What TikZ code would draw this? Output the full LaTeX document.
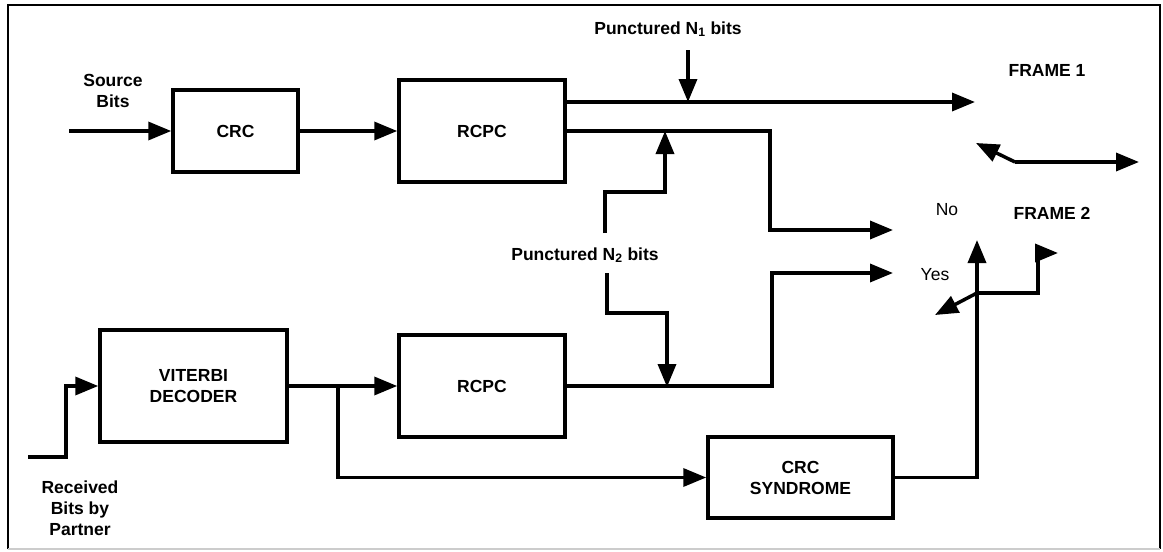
\documentclass[tikz,border=0pt]{standalone}
\usepackage{fontspec}
\setmainfont{Liberation Sans}
\usepackage{tikz}
\usetikzlibrary{arrows.meta, positioning, calc}

\begin{document}
\begin{tikzpicture}[x=1pt, y=-1pt, line width=3.5pt,
    every node/.style={font=\bfseries\fontsize{17.5}{21}\selectfont},
    block/.style={draw, line width=3.5pt, inner sep=0pt, align=center},
    lbl/.style={align=center, inner sep=0pt},
    arr/.style={-{Triangle[length=23pt, width=18pt]}}]
            \useasboundingbox (0,0) rectangle (1163,552);
            \draw[line width=2pt] (8,549) -- (8,5) -- (1160,5) -- (1160,549);
            \draw[line width=2pt, black!20] (8,549) -- (1160,549);
            % blocks
            \node[block, minimum width=125, minimum height=82] (crc) at (235.5,131) {CRC};
            \node[block, minimum width=166, minimum height=102] (rcpcA) at (482,131) {RCPC};
            \node[block, minimum width=187, minimum height=112] (vit) at (193.5,386) {VITERBI\\DECODER};
            \node[block, minimum width=166, minimum height=102] (rcpcB) at (482,386) {RCPC};
            \node[block, minimum width=185, minimum height=81] (syn) at (800.5,477.5) {CRC\\SYNDROME};
            % labels
            \node[lbl] (src) at (113,91) {Source\\Bits};
            \node[lbl] (rx) at (80,508) {Received\\Bits by\\Partner};
            \node[lbl] (n1lbl) at (668,29) {Punctured N\textsubscript{1} bits};
            \node[lbl] (n2lbl) at (585,255) {Punctured N\textsubscript{2} bits};
            \node[lbl] (fr1) at (1047,70) {FRAME 1};
            \node[lbl] (fr2) at (1052,213) {FRAME 2};
            \node[lbl, font=\mdseries\fontsize{17.5}{21}\selectfont] (nolbl) at (947,210) {No};
            \node[lbl, font=\mdseries\fontsize{17.5}{21}\selectfont] (yeslbl) at (935,275) {Yes};
            % free ends
            \coordinate (srcin) at (69,131);
            \coordinate (rxin) at (28,457);
            \coordinate (f1) at (975,102);
            \coordinate (n1) at (688,50);
            \coordinate (n2up) at (605,233);
            \coordinate (n2dn) at (607,273);
            \coordinate (no) at (893,230);
            \coordinate (yes) at (893,273);
            \coordinate (br) at (338,386);
            \coordinate (swup) at (977,240);
            \coordinate (swj) at (977,293);
            \coordinate (swdn) at (935,315);
            \coordinate (f2) at (1058,253);
            \coordinate (swp) at (1015,162);
            \coordinate (swa) at (976,143);
            \coordinate (swb) at (1139,162);
            % connectors
            \draw[arr] (srcin) -- (crc);
            \draw[arr] (crc) -- (rcpcA);
            \draw[arr] (rcpcA.east |- f1) -- (f1);
            \draw[arr] (n1) -- (n1 |- f1);
            \draw[arr] (rcpcA.east) -- ++(203,0) |- (no);
            \draw[arr] (n2up) -- ++(0,-41) -| (665,131);
            \draw[arr] (n2dn) -- ++(0,40) -| (667,387);
            \draw[arr] (rxin) -- ++(38,0) |- (vit.west);
            \draw[arr] (vit) -- (rcpcB);
            \draw[arr] (rcpcB.east) -- ++(205,0) |- (yes);
            \draw[arr] (br) |- (syn.west);
            \draw[arr] (syn.east) -| (swup);
            \draw[arr] (swj) -- (swdn);
            \draw[arr] (swj) -- ++(61,0) |- (f2);
            \draw[arr] (swp) -- (swa);
            \draw[arr] (swp) -- (swb);
        \end{tikzpicture}
\end{document}
